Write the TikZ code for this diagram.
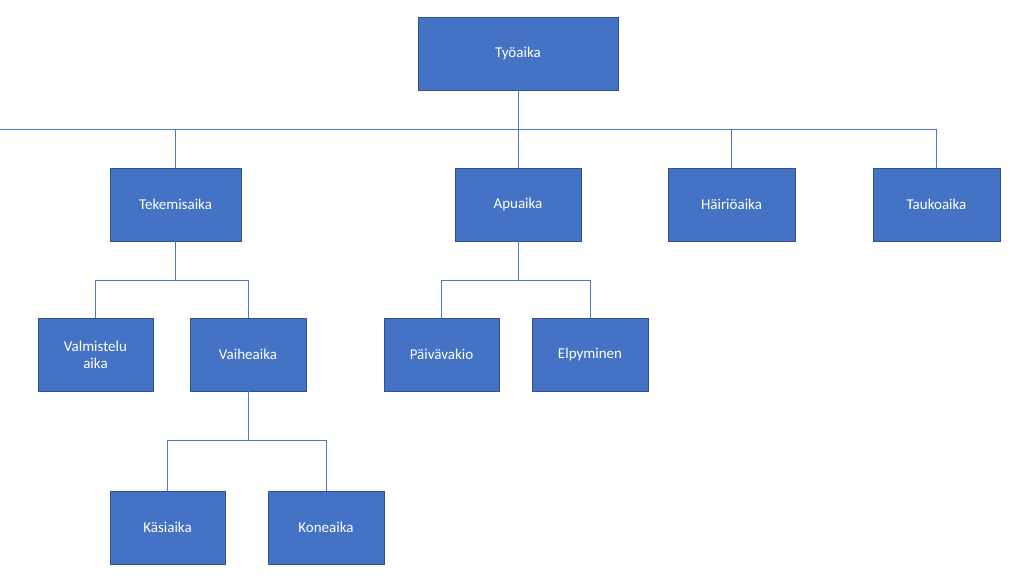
\documentclass[tikz,border=0pt]{standalone}
\usepackage{fontspec}
\setmainfont{Carlito}
\begin{document}
\begin{tikzpicture}[x=1pt,y=-1pt,
  box/.style={draw=boxedge,fill=boxfill,text=white,line width=0.8pt,align=center,font=\fontsize{15}{17}\selectfont,inner sep=0pt},
  conn/.style={draw=linec,line width=0.8pt}]
\definecolor{boxfill}{HTML}{4472C4}
\definecolor{boxedge}{HTML}{2F528F}
\definecolor{linec}{HTML}{4A76C6}
\useasboundingbox (0,0) rectangle (1023,585);
\node[box,minimum width=200pt,minimum height=73pt] (ty) at (518,53.5) {Työaika};
\node[box,minimum width=131pt,minimum height=73pt] (te) at (175.5,204.5) {Tekemisaika};
\node[box,minimum width=126pt,minimum height=73pt] (ap) at (518,204.5) {Apuaika};
\node[box,minimum width=127pt,minimum height=73pt] (ha) at (731.5,204.5) {Häiriöaika};
\node[box,minimum width=127pt,minimum height=73pt] (ta) at (936.5,204.5) {Taukoaika};
\node[box,minimum width=115pt,minimum height=73pt] (va) at (95.5,354.5) {Valmistelu\\aika};
\node[box,minimum width=116pt,minimum height=73pt] (vh) at (248,354.5) {Vaiheaika};
\node[box,minimum width=115pt,minimum height=73pt] (pa) at (441.5,354.5) {Päivävakio};
\node[box,minimum width=116pt,minimum height=73pt] (el) at (590,354.5) {Elpyminen};
\node[box,minimum width=115pt,minimum height=73pt] (ka) at (167.5,527.5) {Käsiaika};
\node[box,minimum width=116pt,minimum height=73pt] (ko) at (326,527.5) {Koneaika};
\foreach \c in {te,ap,ha,ta} \draw[conn] (ty.south) |- (0,129) -| (\c.north);
\draw[conn] (ty.south) -- ++(0,39) -| (te.north);
\draw[conn] (ty.south) -- ++(0,39) -| (ta.north);
\draw[conn] (ty.south) -- (ap.north);
\draw[conn] (ty.south) -- ++(0,39) -| (ha.north);
\draw[conn] (te.south) -- ++(0,39) -| (va.north);
\draw[conn] (te.south) -- ++(0,39) -| (vh.north);
\draw[conn] (ap.south) -- ++(0,39) -| (pa.north);
\draw[conn] (ap.south) -- ++(0,39) -| (el.north);
\draw[conn] (vh.south) -- ++(0,49) -| (ka.north);
\draw[conn] (vh.south) -- ++(0,49) -| (ko.north);
\end{tikzpicture}
\end{document}
